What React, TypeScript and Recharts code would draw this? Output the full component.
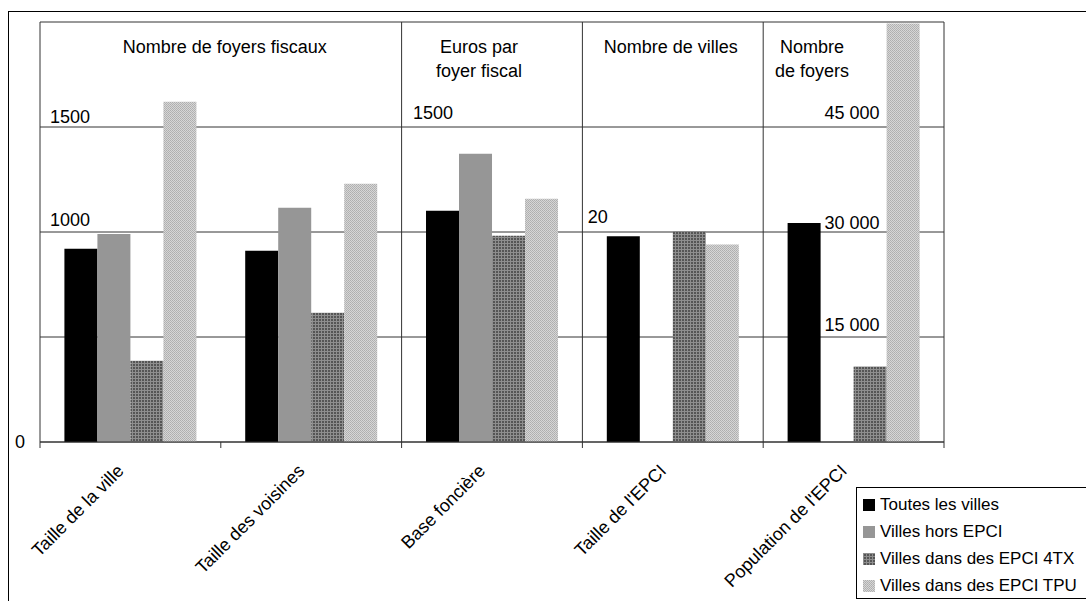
import {
  BarChart,
  Bar,
  XAxis,
  YAxis,
  CartesianGrid,
  ReferenceLine,
  ReferenceDot,
  Legend,
} from "recharts"

const categories = [
  "Taille de la ville",
  "Taille des voisines",
  "Base foncière",
  "Taille de l'EPCI",
  "Population de l'EPCI",
]

// raw values, each measure in its own unit
const toutesLesVilles = [920, 911, 1101, 19.6, 31300]
const villesHorsEpci: (number | null)[] = [990, 1116, 1373, null, null]
const villesEpci4tx = [387, 616, 982, 20.1, 10800]
const villesEpciTpu = [1620, 1230, 1158, 18.8, 59800]

// brings every unit onto the shared 0–2000 axis
const unitFactor = [1, 1, 1, 50, 1 / 30]

const seriesNames = [
  "Toutes les villes",
  "Villes hors EPCI",
  "Villes dans des EPCI 4TX",
  "Villes dans des EPCI TPU",
]

const headerCats = [0, 2, 3, 4]
const headerLines = [
  ["Nombre de foyers fiscaux"],
  ["Euros par", "foyer fiscal"],
  ["Nombre de villes"],
  ["Nombre", "de foyers"],
]

// per-measure scale marks, in the measure's own unit
const scaleCats = [0, 0, 2, 3, 4, 4, 4]
const scaleValues = [1500, 1000, 1500, 20, 45000, 30000, 15000]
const scaleTexts = ["1500", "1000", "1500", "20", "45 000", "30 000", "15 000"]

const FONT = "'Liberation Sans', Arial, sans-serif"
const FS = 18
const CHART_W = 1086
const CHART_H = 601
const PLOT_LEFT = 40
const MARGIN_RIGHT = 142
const BAND = (CHART_W - PLOT_LEFT - MARGIN_RIGHT) / categories.length
const LINE = "#333"

const scale = (v: number | null, i: number) => (v == null ? null : v * unitFactor[i])

const data = categories.map((name, i) => ({
  name,
  toutes: scale(toutesLesVilles[i], i),
  hors: scale(villesHorsEpci[i], i),
  tx4: scale(villesEpci4tx[i], i),
  tpu: scale(villesEpciTpu[i], i),
}))

const fills = ["#000", "#969696", "url(#pat4tx)", "url(#patTpu)"]
const keys = ["toutes", "hors", "tx4", "tpu"]

const scaleLayout = [
  { dx: -80.5, dy: -4, anchor: "start" },
  { dx: -80.5, dy: -6, anchor: "start" },
  { dx: -79, dy: -8, anchor: "start" },
  { dx: -85, dy: -9, anchor: "start" },
  { dx: 26, dy: -8, anchor: "end" },
  { dx: 26, dy: -3, anchor: "end" },
  { dx: 26, dy: -6, anchor: "end" },
]
const headerDx = [94.3, -13, -2, -41.5]

function Patterns() {
  return (
    <defs>
      <pattern id="pat4tx" width="3" height="3" patternUnits="userSpaceOnUse">
        <rect width="3" height="3" fill="#555" />
        <rect width="3" height="1" fill="#8e8e8e" />
        <rect width="1" height="3" fill="#8e8e8e" />
      </pattern>
      <pattern id="patTpu" width="2" height="2" patternUnits="userSpaceOnUse">
        <rect width="2" height="2" fill="#d6d6d6" />
        <rect width="1" height="1" fill="#aeaeae" />
        <rect x="1" y="1" width="1" height="1" fill="#b4b4b4" />
      </pattern>
    </defs>
  )
}

function CategoryTick(props: any) {
  const { x, y, payload, index } = props
  const half = BAND / 2
  const ax = x - 5.6
  const ay = y + 30
  return (
    <g>
      <line x1={x - half} x2={x - half} y1={y} y2={y + 6} stroke={LINE} />
      {index === categories.length - 1 && (
        <line x1={x + half} x2={x + half} y1={y} y2={y + 6} stroke={LINE} />
      )}
      <text
        x={ax}
        y={ay}
        transform={`rotate(-45 ${ax} ${ay})`}
        textAnchor="end"
        fontSize={FS}
        fontFamily={FONT}
        fill="#000"
      >
        {payload.value}
      </text>
    </g>
  )
}

function ZeroTick(props: any) {
  const { x, y, payload } = props
  if (payload.value !== 0) return null
  return (
    <text x={x} y={y + 6} textAnchor="end" fontSize={FS} fontFamily={FONT} fill="#000">
      0
    </text>
  )
}

function NoteLabel(props: any) {
  const { viewBox, lines, dx, dy, anchor } = props
  const vx = viewBox?.x ?? 0
  const vy = viewBox?.y ?? 0
  return (
    <text textAnchor={anchor} fontSize={FS} fontFamily={FONT} fill="#000">
      {lines.map((t: string, i: number) => (
        <tspan key={i} x={vx + dx} y={vy + dy + i * 23.5}>
          {t}
        </tspan>
      ))}
    </text>
  )
}

function LegendBox() {
  return (
    <div
      style={{
        position: "relative",
        width: 260,
        height: 112,
        boxSizing: "border-box",
        border: "1px solid #000",
        background: "#fff",
        fontFamily: FONT,
      }}
    >
      {seriesNames.map((name, i) => (
        <div
          key={name}
          style={{
            position: "absolute",
            left: 6,
            top: 16.5 + i * 27.3 - 10,
            height: 20,
            display: "flex",
            alignItems: "center",
            whiteSpace: "nowrap",
          }}
        >
          <svg width={12} height={12} style={{ display: "block" }}>
            <Patterns />
            <rect width={12} height={12} fill={fills[i]} />
          </svg>
          <span style={{ marginLeft: 5, fontSize: 17, lineHeight: "20px", color: "#000" }}>
            {name}
          </span>
        </div>
      ))}
    </div>
  )
}

export default function App() {
  return (
    <div
      style={{
        position: "absolute",
        left: 0,
        top: 0,
        width: CHART_W,
        height: CHART_H,
        overflow: "hidden",
        background: "#fff",
      }}
    >
      <div
        style={{
          position: "absolute",
          left: 8,
          top: 11,
          width: 1300,
          height: 900,
          border: "1px solid #000",
        }}
      />
      <div style={{ position: "absolute", left: 0, top: 0 }}>
        <BarChart
          width={CHART_W}
          height={CHART_H}
          data={data}
          margin={{ top: 22, right: MARGIN_RIGHT, bottom: 39, left: 0 }}
          barCategoryGap="13.5%"
          barGap={0}
        >
          <Patterns />
          <CartesianGrid horizontal vertical={false} stroke={LINE} />
          <XAxis
            dataKey="name"
            interval={0}
            height={120}
            tickLine={false}
            tickSize={0}
            tickMargin={0}
            axisLine={{ stroke: LINE }}
            tick={<CategoryTick />}
          />
          <YAxis
            width={40}
            domain={[0, 2000]}
            ticks={[0, 500, 1000, 1500, 2000]}
            tickLine={false}
            tickSize={0}
            tickMargin={15}
            axisLine={{ stroke: LINE }}
            tick={<ZeroTick />}
          />
          {keys.map((k, i) => (
            <Bar
              key={k}
              dataKey={k}
              name={seriesNames[i]}
              fill={fills[i]}
              isAnimationActive={false}
            />
          ))}
          {[2, 3, 4].map((c) => (
            <ReferenceLine key={c} x={categories[c]} position="start" stroke={LINE} />
          ))}
          <ReferenceLine x={categories[4]} position="end" stroke={LINE} />
          {headerCats.map((c, i) => (
            <ReferenceDot
              key={"h" + i}
              x={categories[c]}
              y={2000}
              r={0}
              fill="none"
              stroke="none"
              label={<NoteLabel lines={headerLines[i]} dx={headerDx[i]} dy={31} anchor="middle" />}
            />
          ))}
          {scaleValues.map((v, i) => (
            <ReferenceDot
              key={"s" + i}
              x={categories[scaleCats[i]]}
              y={v * unitFactor[scaleCats[i]]}
              r={0}
              fill="none"
              stroke="none"
              label={
                <NoteLabel
                  lines={[scaleTexts[i]]}
                  dx={scaleLayout[i].dx}
                  dy={scaleLayout[i].dy}
                  anchor={scaleLayout[i].anchor}
                />
              }
            />
          ))}
          <Legend
            layout="vertical"
            align="center"
            verticalAlign="middle"
            wrapperStyle={{ position: "absolute", left: 856, top: 487, width: 260 }}
            content={() => <LegendBox />}
          />
        </BarChart>
      </div>
    </div>
  )
}
